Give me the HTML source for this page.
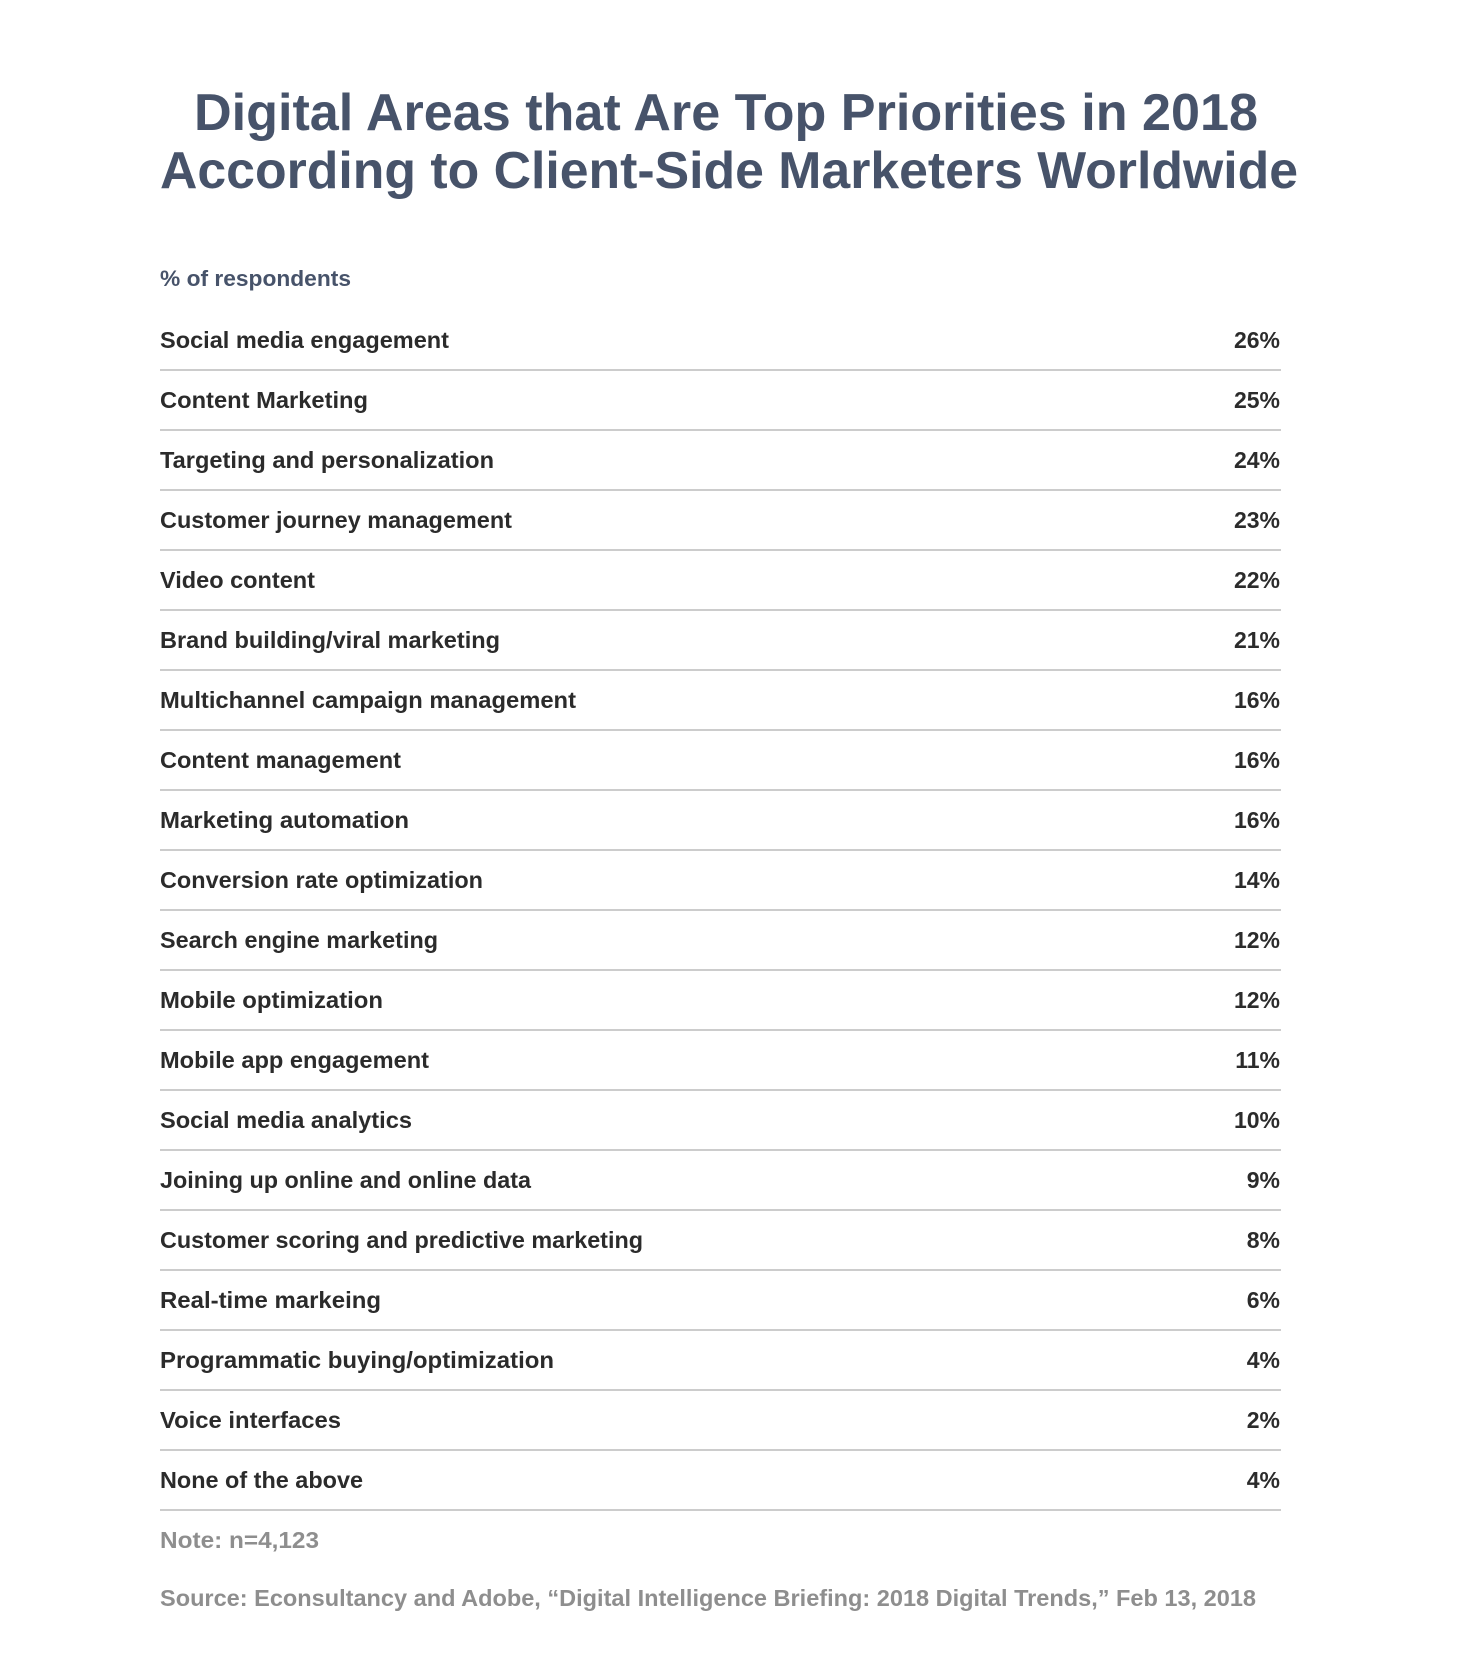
<!DOCTYPE html>
<html><head><meta charset="utf-8"><style>
html,body{margin:0;padding:0;background:#fff;}
svg{display:block;}
text{font-family:"Liberation Sans",Arial,sans-serif;font-weight:bold;}
.r{fill:#2b2b2b;font-size:23px;}
.p{fill:#2b2b2b;font-size:23px;text-anchor:end;}
.n{fill:#8e8e8e;font-size:23px;}
</style></head><body>
<svg width="1460" height="1674" viewBox="0 0 1460 1674" xmlns="http://www.w3.org/2000/svg">
<rect width="1460" height="1674" fill="#fff"/>
<text x="194" y="130" font-size="52" fill="#47536a" textLength="1064" lengthAdjust="spacingAndGlyphs">Digital Areas that Are Top Priorities in 2018</text>
<text x="160" y="188" font-size="52" fill="#47536a" textLength="1138" lengthAdjust="spacingAndGlyphs">According to Client-Side Marketers Worldwide</text>
<text x="160" y="286" font-size="22" fill="#47536a" textLength="191" lengthAdjust="spacingAndGlyphs">% of respondents</text>
<text class="n" x="160" y="1548" textLength="159" lengthAdjust="spacingAndGlyphs">Note: n=4,123</text>
<text class="n" x="160" y="1606" textLength="1096" lengthAdjust="spacingAndGlyphs">Source: Econsultancy and Adobe, “Digital Intelligence Briefing: 2018 Digital Trends,” Feb 13, 2018</text>
<text class="r" x="160" y="348" textLength="289" lengthAdjust="spacingAndGlyphs">Social media engagement</text><text class="p" x="1280" y="348">26%</text><rect x="160" y="369" width="1121" height="2" fill="#cccccc"/>
<text class="r" x="160" y="408" textLength="208" lengthAdjust="spacingAndGlyphs">Content Marketing</text><text class="p" x="1280" y="408">25%</text><rect x="160" y="429" width="1121" height="2" fill="#cccccc"/>
<text class="r" x="160" y="468" textLength="334" lengthAdjust="spacingAndGlyphs">Targeting and personalization</text><text class="p" x="1280" y="468">24%</text><rect x="160" y="489" width="1121" height="2" fill="#cccccc"/>
<text class="r" x="160" y="528" textLength="352" lengthAdjust="spacingAndGlyphs">Customer journey management</text><text class="p" x="1280" y="528">23%</text><rect x="160" y="549" width="1121" height="2" fill="#cccccc"/>
<text class="r" x="160" y="588" textLength="155" lengthAdjust="spacingAndGlyphs">Video content</text><text class="p" x="1280" y="588">22%</text><rect x="160" y="609" width="1121" height="2" fill="#cccccc"/>
<text class="r" x="160" y="648" textLength="340" lengthAdjust="spacingAndGlyphs">Brand building/viral marketing</text><text class="p" x="1280" y="648">21%</text><rect x="160" y="669" width="1121" height="2" fill="#cccccc"/>
<text class="r" x="160" y="708" textLength="416" lengthAdjust="spacingAndGlyphs">Multichannel campaign management</text><text class="p" x="1280" y="708">16%</text><rect x="160" y="729" width="1121" height="2" fill="#cccccc"/>
<text class="r" x="160" y="768" textLength="241" lengthAdjust="spacingAndGlyphs">Content management</text><text class="p" x="1280" y="768">16%</text><rect x="160" y="789" width="1121" height="2" fill="#cccccc"/>
<text class="r" x="160" y="828" textLength="249" lengthAdjust="spacingAndGlyphs">Marketing automation</text><text class="p" x="1280" y="828">16%</text><rect x="160" y="849" width="1121" height="2" fill="#cccccc"/>
<text class="r" x="160" y="888" textLength="323" lengthAdjust="spacingAndGlyphs">Conversion rate optimization</text><text class="p" x="1280" y="888">14%</text><rect x="160" y="909" width="1121" height="2" fill="#cccccc"/>
<text class="r" x="160" y="948" textLength="278" lengthAdjust="spacingAndGlyphs">Search engine marketing</text><text class="p" x="1280" y="948">12%</text><rect x="160" y="969" width="1121" height="2" fill="#cccccc"/>
<text class="r" x="160" y="1008" textLength="223" lengthAdjust="spacingAndGlyphs">Mobile optimization</text><text class="p" x="1280" y="1008">12%</text><rect x="160" y="1029" width="1121" height="2" fill="#cccccc"/>
<text class="r" x="160" y="1068" textLength="269" lengthAdjust="spacingAndGlyphs">Mobile app engagement</text><text class="p" x="1280" y="1068">11%</text><rect x="160" y="1089" width="1121" height="2" fill="#cccccc"/>
<text class="r" x="160" y="1128" textLength="252" lengthAdjust="spacingAndGlyphs">Social media analytics</text><text class="p" x="1280" y="1128">10%</text><rect x="160" y="1149" width="1121" height="2" fill="#cccccc"/>
<text class="r" x="160" y="1188" textLength="371" lengthAdjust="spacingAndGlyphs">Joining up online and online data</text><text class="p" x="1280" y="1188">9%</text><rect x="160" y="1209" width="1121" height="2" fill="#cccccc"/>
<text class="r" x="160" y="1248" textLength="483" lengthAdjust="spacingAndGlyphs">Customer scoring and predictive marketing</text><text class="p" x="1280" y="1248">8%</text><rect x="160" y="1269" width="1121" height="2" fill="#cccccc"/>
<text class="r" x="160" y="1308" textLength="221" lengthAdjust="spacingAndGlyphs">Real-time markeing</text><text class="p" x="1280" y="1308">6%</text><rect x="160" y="1329" width="1121" height="2" fill="#cccccc"/>
<text class="r" x="160" y="1368" textLength="394" lengthAdjust="spacingAndGlyphs">Programmatic buying/optimization</text><text class="p" x="1280" y="1368">4%</text><rect x="160" y="1389" width="1121" height="2" fill="#cccccc"/>
<text class="r" x="160" y="1428" textLength="181" lengthAdjust="spacingAndGlyphs">Voice interfaces</text><text class="p" x="1280" y="1428">2%</text><rect x="160" y="1449" width="1121" height="2" fill="#cccccc"/>
<text class="r" x="160" y="1488" textLength="203" lengthAdjust="spacingAndGlyphs">None of the above</text><text class="p" x="1280" y="1488">4%</text><rect x="160" y="1509" width="1121" height="2" fill="#cccccc"/>
</svg>
</body></html>
